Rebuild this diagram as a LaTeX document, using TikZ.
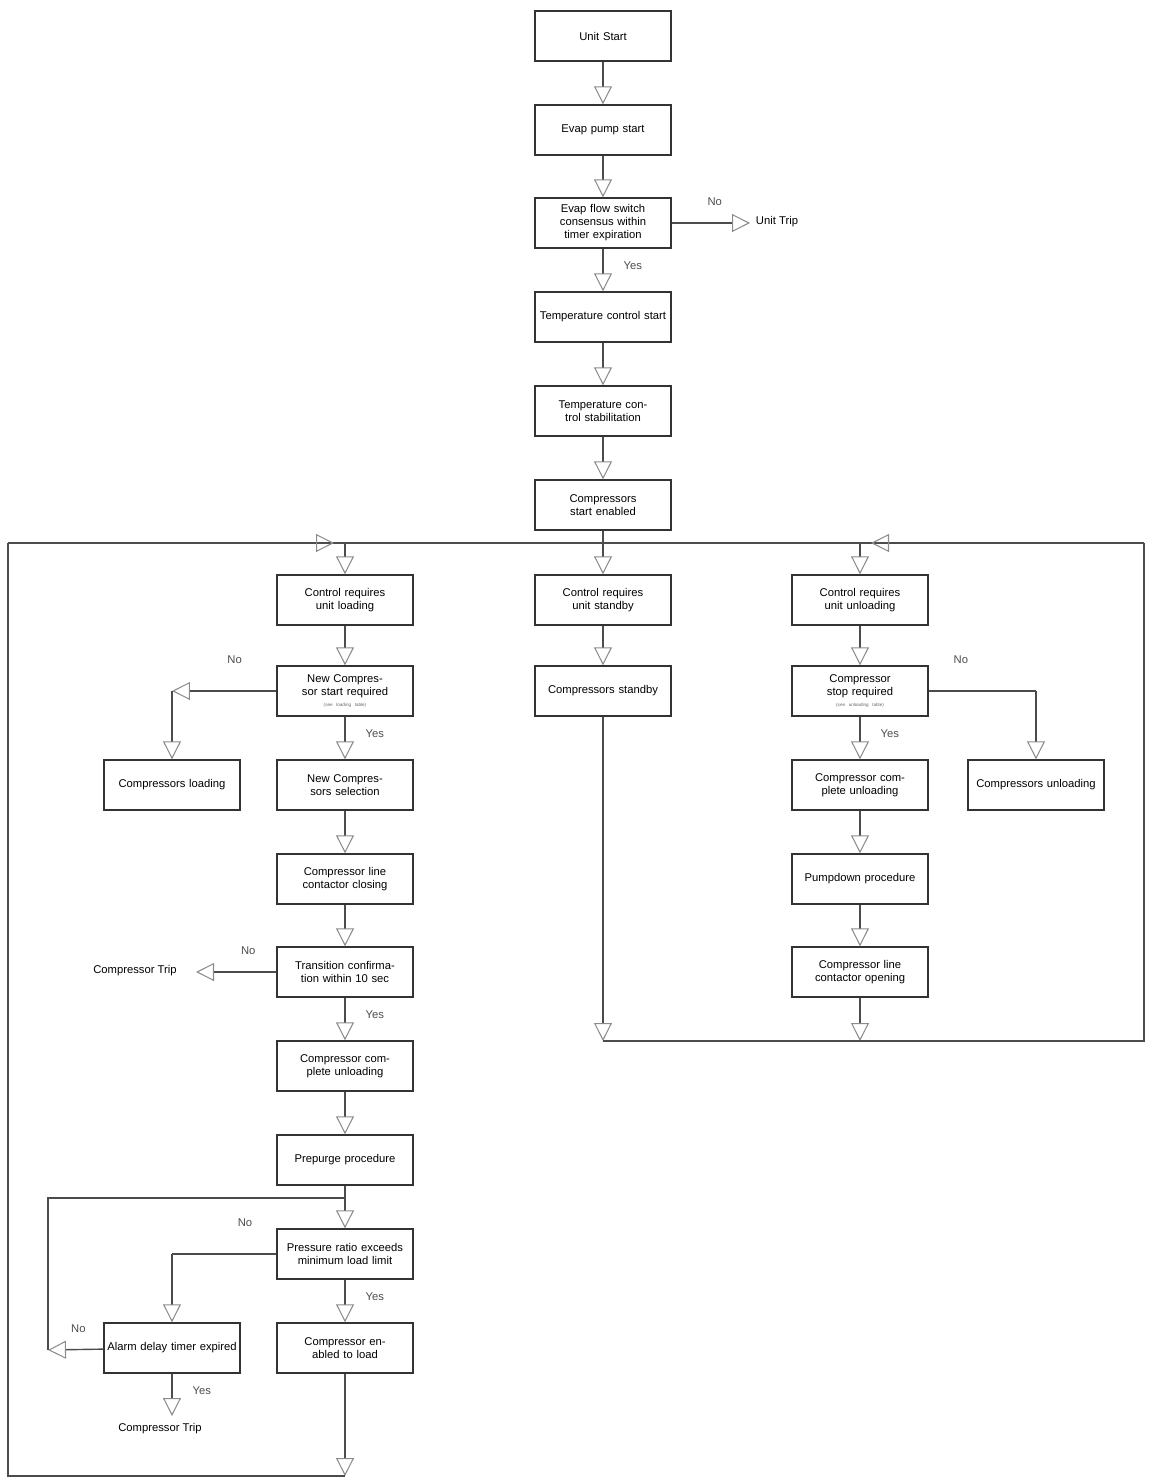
\documentclass[tikz,border=0pt]{standalone}
\usepackage{fontspec}
\setmainfont{Liberation Sans}
\usetikzlibrary{arrows.meta}
\colorlet{boxStroke}{black!80}
\colorlet{wireColor}{black!70}
\colorlet{tipColor}{black!45}
\newcommand{\XMid}{603}
\newcommand{\XLeft}{345}
\newcommand{\XRight}{860}
\newcommand{\XBus}{8}
\newcommand{\XBusR}{1144}

\begin{document}
\begin{tikzpicture}[
  x=0.02cm, y=-0.02cm,
  box/.style={draw=boxStroke,line width=0.8pt,minimum width=2.72cm,minimum height=1.0cm,
    text width=2.6cm,align=center,inner sep=1pt,font=\fontsize{6.4}{7.4}\selectfont},
  label/.style={font=\fontsize{6.4}{7.4}\selectfont},
  wire/.style={wireColor,line width=0.8pt},
  flow/.style={wire,-{Triangle[open,length=3.6mm,width=3.6mm,color=tipColor,line width=0.6pt]}}
]
\useasboundingbox (0,0) rectangle (1151,1479);

% Main column
\node[box] (start) at (\XMid,36) {Unit Start};
\node[box] (pump) at (\XMid,130) {Evap pump start};
\node[box] (flow) at (\XMid,223) {Evap flow switch consensus within timer expiration};
\node[box] (tstart) at (\XMid,317) {Temperature control start};
\node[box] (tstab) at (\XMid,411) {Temperature control stabilitation};
\node[box] (cenab) at (\XMid,505) {Compressors start enabled};
\node[label] (utrip) at (777,222) {Unit Trip};
\coordinate (tripend) at (750,223);

\draw[flow] (start) -- (pump);
\draw[flow] (pump) -- (flow);
\draw[flow] (flow) -- node[label,right=8pt,pos=0.4]{Yes} (tstart);
\draw[flow] (flow) -- node[label,above=6pt,pos=0.55]{No} (tripend);
\draw[flow] (tstart) -- (tstab);
\draw[flow] (tstab) -- (cenab);

% Three branches
\node[box] (cload) at (\XLeft,600) {Control requires unit loading};
\node[box] (cstby) at (\XMid,600) {Control requires unit standby};
\node[box] (cunl) at (\XRight,600) {Control requires unit unloading};
\coordinate (busL) at (\XLeft,543);
\coordinate (busM) at (\XMid,543);
\coordinate (busR) at (\XRight,543);
\draw[wire] (cenab) -- (busM);
\draw[wire] (\XBus,543) -- (\XBusR,543);
\draw[flow] (busM) -- (cstby);
\draw[flow] (busL) -- (cload);
\draw[flow] (busR) -- (cunl);

% Loading branch
\node[box] (newreq) at (\XLeft,691) {New Compressor start required\\[-1pt]\textnormal{\fontsize{2.6}{3}\selectfont\color{black!60}(see loading table)}};
\node[box] (cloading) at (172,785) {Compressors loading};
\node[box] (newsel) at (\XLeft,785) {New Compressors selection};
\node[box] (lclose) at (\XLeft,879) {Compressor line contactor closing};
\node[box] (trans) at (\XLeft,972) {Transition confirmation within 10 sec};
\node[label] (ctrip1) at (135,971) {Compressor Trip};
\coordinate (trip1end) at (196,972);
\node[box] (cunl1) at (\XLeft,1066) {Compressor complete unloading};
\node[box] (prep) at (\XLeft,1160) {Prepurge procedure};
\node[box] (pratio) at (\XLeft,1254) {Pressure ratio exceeds minimum load limit};
\node[box] (alarm) at (172,1348) {Alarm delay timer expired};
\node[box] (cenld) at (\XLeft,1348) {Compressor enabled to load};
\node[label] (ctrip2) at (160,1429) {Compressor Trip};
\coordinate (trip2end) at (172,1416);
\coordinate (noL) at (172,691);
\coordinate (loopA) at (\XLeft,1198);
\coordinate (loopB) at (48,1350);
\coordinate (noP) at (172,1254);
\coordinate (botL) at (\XLeft,1476);

\draw[flow] (cload) -- (newreq);
\draw[flow] (newreq) -- node[label,above=12pt,pos=0.4]{No} (noL);
\draw[flow] (noL) -- (cloading);
\draw[flow] (newreq) -- node[label,right=8pt,pos=0.4]{Yes} (newsel);
\draw[flow] (newsel) -- (lclose);
\draw[flow] (lclose) -- (trans);
\draw[flow] (trans) -- node[label,above=6pt,pos=0.35]{No} (trip1end);
\draw[flow] (trans) -- node[label,right=8pt,pos=0.4]{Yes} (cunl1);
\draw[flow] (cunl1) -- (prep);
\draw[wire] (prep) -- (loopA);
\draw[flow] (loopA) -- (pratio);
\draw[wire] (pratio.west) -- node[label,above=12pt,pos=0.3]{No} (noP);
\draw[flow] (noP) -- (alarm);
\draw[flow] (pratio) -- node[label,right=8pt,pos=0.4]{Yes} (cenld);
\draw[flow] (alarm) -- node[label,above=6pt,pos=0.45]{No} (loopB);
\draw[wire] (loopB) -- (48,1198) -- (loopA);
\draw[flow] (alarm) -- node[label,right=8pt,pos=0.4]{Yes} (trip2end);
\draw[flow] (cenld) -- (botL);
\draw[wire] (botL) -- (\XBus,1476) -- (\XBus,543);
\draw[flow] (\XBus,543) -- (334,543);

% Standby branch
\node[box] (cstb) at (\XMid,691) {Compressors standby};
\coordinate (botM) at (\XMid,1041);
\draw[flow] (cstby) -- (cstb);
\draw[flow] (cstb) -- (botM);

% Unloading branch
\node[box] (stopreq) at (\XRight,691) {Compressor stop required\\[-1pt]\textnormal{\fontsize{2.6}{3}\selectfont\color{black!60}(see unloading table)}};
\node[box] (cunloading) at (1036,785) {Compressors unloading};
\node[box] (cunl2) at (\XRight,785) {Compressor complete unloading};
\node[box] (pdown) at (\XRight,879) {Pumpdown procedure};
\node[box] (lopen) at (\XRight,972) {Compressor line contactor opening};
\coordinate (noR) at (1036,691);
\coordinate (botR) at (\XRight,1041);

\draw[flow] (cunl) -- (stopreq);
\draw[wire] (stopreq) -- node[label,above=12pt,pos=0.3]{No} (noR);
\draw[flow] (noR) -- (cunloading);
\draw[flow] (stopreq) -- node[label,right=8pt,pos=0.4]{Yes} (cunl2);
\draw[flow] (cunl2) -- (pdown);
\draw[flow] (pdown) -- (lopen);
\draw[flow] (lopen) -- (botR);
\draw[wire] (botM) -- (\XBusR,1041) -- (\XBusR,543);
\draw[flow] (\XBusR,543) -- (871,543);

\end{tikzpicture}
\end{document}
